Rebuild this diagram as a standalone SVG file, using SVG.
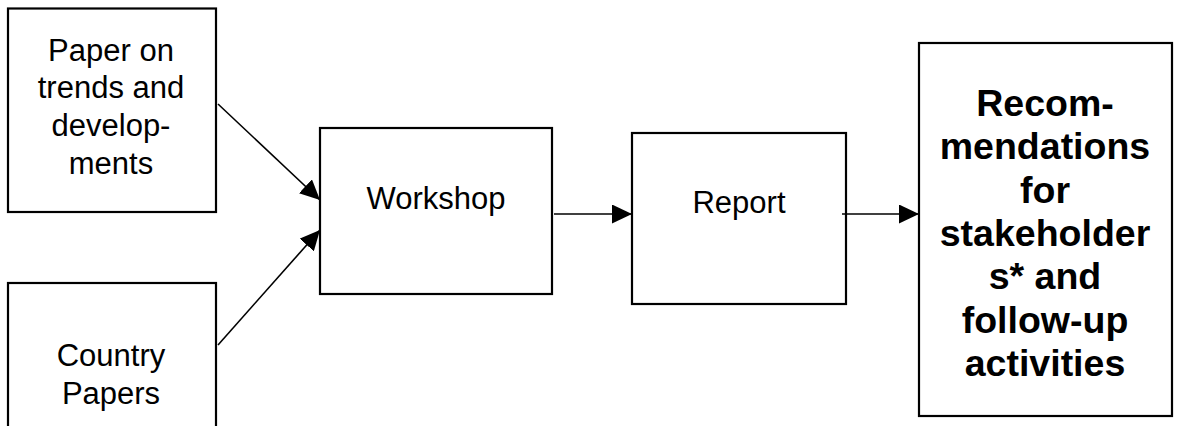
<svg xmlns="http://www.w3.org/2000/svg" width="1180" height="426" viewBox="0 0 1180 426">
<style>
.box{fill:#fff;stroke:#000;stroke-width:2.2}
.t{font-family:"Liberation Sans",Arial,sans-serif;font-size:31px;text-anchor:middle;fill:#000}
.b{font-family:"Liberation Sans",Arial,sans-serif;font-size:37.5px;font-weight:bold;text-anchor:middle;fill:#000}
.c{stroke:#000;stroke-width:1.6;fill:none;marker-end:url(#ah)}
</style>
<defs>
<marker id="ah" markerUnits="userSpaceOnUse" markerWidth="21" markerHeight="19" refX="20" refY="9.5" orient="auto">
<path d="M0,0 L20,9.5 L0,19 Z" fill="#000"/>
</marker>
</defs>
<rect width="1180" height="426" fill="#fff"/>
<g id="paper">
<rect class="box" x="8" y="8.5" width="208" height="203.5"/>
<text class="t" x="111" y="61">Paper on</text>
<text class="t" x="111" y="98">trends and</text>
<text class="t" x="111" y="136">develop-</text>
<text class="t" x="111" y="174">ments</text>
</g>
<g id="country">
<rect class="box" x="8" y="283" width="208" height="160"/>
<text class="t" x="111" y="366">Country</text>
<text class="t" x="111" y="404">Papers</text>
</g>
<g id="workshop">
<rect class="box" x="320" y="128" width="232" height="166"/>
<text class="t" x="436" y="209">Workshop</text>
</g>
<g id="report">
<rect class="box" x="632" y="133" width="214" height="171"/>
<text class="t" x="739" y="213">Report</text>
</g>
<g id="recommendations">
<rect class="box" x="919" y="43" width="253" height="373"/>
<text class="b" x="1045" y="116">Recom-</text>
<text class="b" x="1045" y="159">mendations</text>
<text class="b" x="1045" y="203">for</text>
<text class="b" x="1045" y="246">stakeholder</text>
<text class="b" x="1045" y="289">s* and</text>
<text class="b" x="1045" y="333">follow-up</text>
<text class="b" x="1045" y="376">activities</text>
</g>
<g id="connectors">
<line class="c" x1="218" y1="104" x2="320" y2="200"/>
<line class="c" x1="218" y1="345" x2="320" y2="230"/>
<line class="c" x1="554" y1="214" x2="632" y2="214"/>
<line class="c" x1="842" y1="214" x2="919" y2="214"/>
</g>
</svg>
